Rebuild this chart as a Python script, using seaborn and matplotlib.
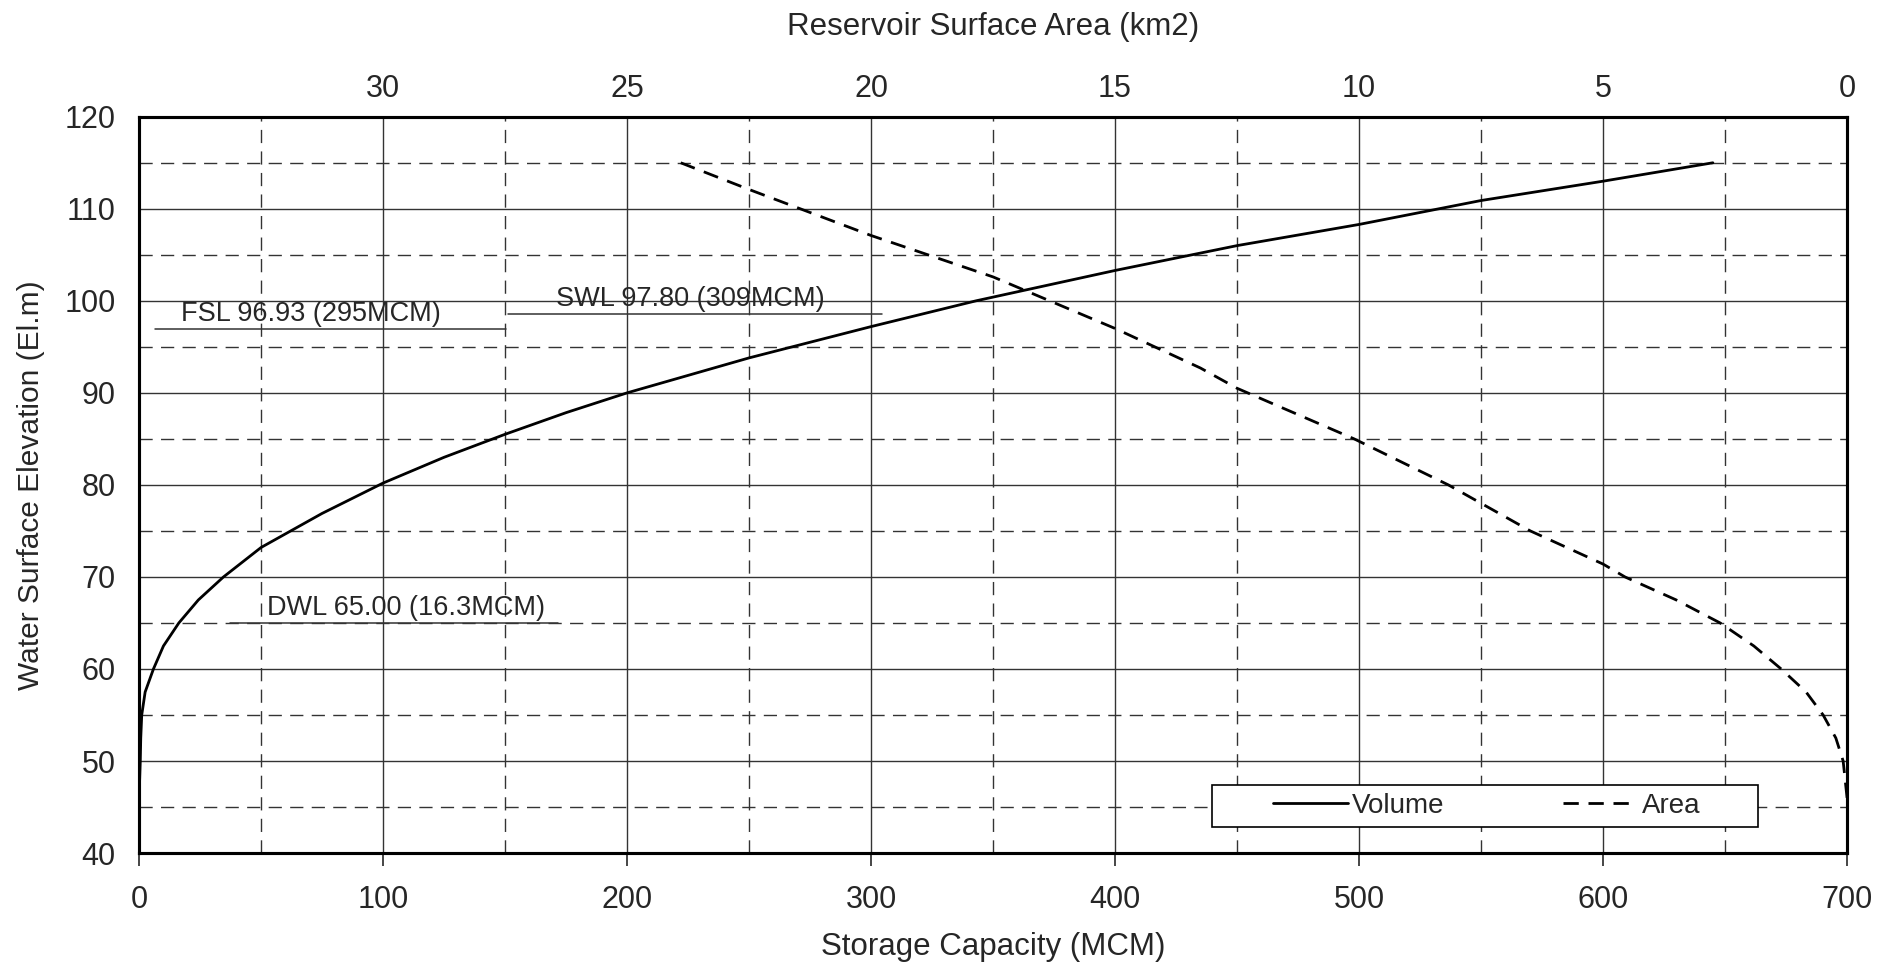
import numpy as np
import pandas as pd
import matplotlib
matplotlib.use('Agg')
import matplotlib.pyplot as plt
from matplotlib.patches import Rectangle
import seaborn as sns

sns.set_style('white')
plt.rcParams['font.family'] = ['Liberation Sans', 'DejaVu Sans']

# volume curve: elevation (El.m) vs storage (MCM)
vol_elev = [46, 50, 52.5, 55, 57.5, 60, 62.5, 65, 67.5, 70, 73.2, 76.9, 80.2, 83.0, 85.5, 87.85, 90, 93.8, 97.2, 100, 101.1, 103.3, 106, 108.3, 110.9, 113, 115]
vol_mcm = [0, 0.5, 0.7, 1.1, 2.5, 5.9, 10, 16.3, 24.3, 34.6, 50, 75, 100, 125, 150, 175, 200, 250, 300, 343, 362, 400, 450, 500, 550, 600, 645]

# area curve: elevation vs surface area (km2)
area_elev = [46, 50, 52.5, 55, 57.5, 60, 62.5, 65, 67.5, 70, 71.4, 75, 80, 85, 90.5, 92.7, 97.0, 102.6, 107.1, 112.1, 115]
area_km2 = [0, 0.08, 0.23, 0.49, 0.84, 1.35, 1.91, 2.6, 3.5, 4.55, 5.0, 6.49, 8.17, 10.1, 12.5, 13.25, 15.0, 17.5, 20.0, 22.5, 23.9]

# reference levels: label, line elevation, x-start, x-end, text x
levels = ['FSL 96.93 (295MCM)', 'SWL 97.80 (309MCM)', 'DWL 65.00 (16.3MCM)']
level_y = [96.96, 98.6, 65.0]
level_x0 = [6.4, 151.2, 37.3]
level_x1 = [150.4, 304.4, 171.7]
level_tx = [17.3, 171, 52.3]

area_ticks = [30, 25, 20, 15, 10, 5, 0]

vol = pd.DataFrame({'elev': vol_elev, 'mcm': vol_mcm})
area = pd.DataFrame({'elev': area_elev, 'km2': area_km2})

fig = plt.figure(figsize=(18.79, 9.65), dpi=100)
ax = fig.add_axes([0.074, 0.116, 0.909, 0.763])

ax.set_xlim(0, 700)
ax.set_ylim(40, 120)
ax.set_xticks(range(0, 701, 100))
ax.set_xticks(range(50, 701, 100), minor=True)
ax.set_yticks(range(40, 121, 10))
ax.set_yticks(range(45, 121, 10), minor=True)
ax.grid(which='major', color='#333333', lw=1.0, ls='-')
ax.grid(which='minor', color='#333333', lw=1.0, ls=(0, (9.5, 6)))
ax.set_axisbelow(True)

sns.lineplot(data=vol, x='mcm', y='elev', sort=False, ax=ax, color='black', lw=2.0,
             label='Volume', legend=False)

for lab, y, x0, x1, tx in zip(levels, level_y, level_x0, level_x1, level_tx):
    ax.plot([x0, x1], [y, y], color='#333333', lw=1.1)
    ax.text(tx, y + 0.2, lab, fontsize=19.5, va='bottom', ha='left')

ax2 = ax.twiny()
ax2.set_xlim(35, 0)
sns.lineplot(data=area, x='km2', y='elev', sort=False, ax=ax2, color='black', lw=2.0,
             ls=(0, (5.5, 3.5)), label='Area', legend=False)
ax2.set_ylim(40, 120)
ax2.set_xticks(area_ticks)
ax2.tick_params(axis='x', length=0, pad=9, labelsize=22)
ax2.set_xlabel('Reservoir Surface Area (km2)', fontsize=22.5, labelpad=28)

ax.tick_params(axis='x', which='major', direction='out', length=9, width=1.2, pad=14, labelsize=22)
ax.tick_params(axis='x', which='minor', length=0)
ax.tick_params(axis='y', which='major', direction='in', length=9, width=1.2, pad=17, labelsize=22)
ax.tick_params(axis='y', which='minor', length=0)
ax.set_xlabel('Storage Capacity (MCM)', fontsize=22.5, labelpad=12)
ax.set_ylabel('Water Surface Elevation (El.m)', fontsize=21.5, labelpad=14)

for a in (ax, ax2):
    for s in a.spines.values():
        s.set_linewidth(2.2)
        s.set_color('black')

# legend frame drawn separately so the entries sit inset like the original
ax2.add_patch(Rectangle((0.628, 0.0358), 0.32, 0.057, transform=ax2.transAxes,
                        facecolor='white', edgecolor='black', lw=1.2, zorder=5))
h1, l1 = ax.get_legend_handles_labels()
h2, l2 = ax2.get_legend_handles_labels()
leg = ax2.legend(h1 + h2, l1 + l2, ncol=2, loc='center', bbox_to_anchor=(0.664, 0.0358, 0.25, 0.057),
                 mode='expand', frameon=False, fontsize=20, borderaxespad=0,
                 handlelength=2.7, handletextpad=0.15, borderpad=0)
leg.set_zorder(6)

fig.savefig('out.png', dpi=100)
